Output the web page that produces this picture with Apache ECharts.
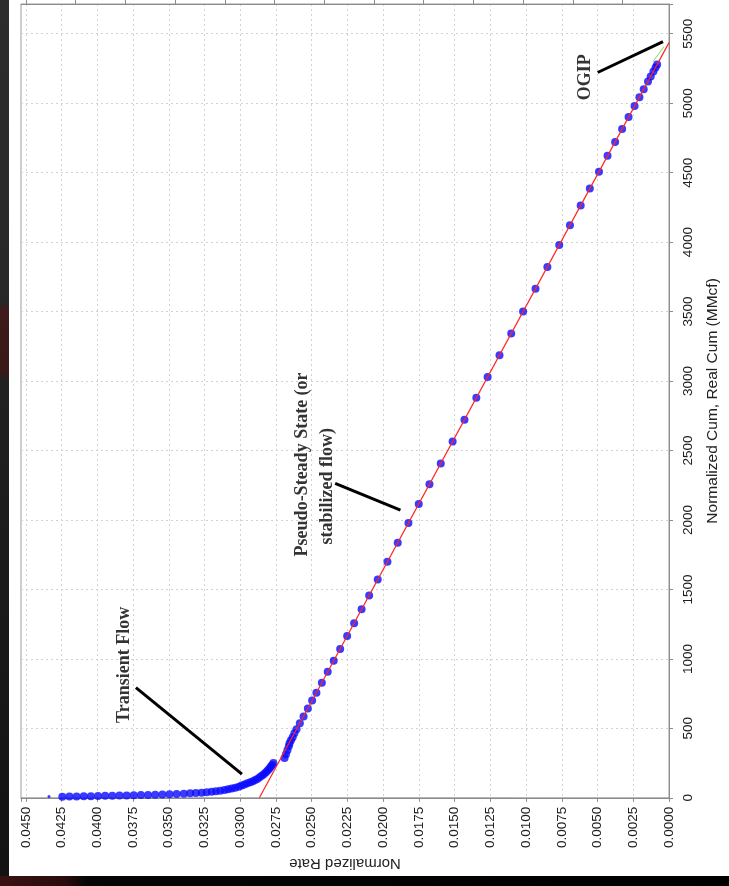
<!DOCTYPE html>
<html>
<head>
<meta charset="utf-8">
<script src="https://cdn.jsdelivr.net/npm/echarts@6/dist/echarts.min.js"></script>
<style>
  html, body { margin: 0; padding: 0; width: 729px; height: 886px; overflow: hidden; background: #000; }
  #backdrop { position: absolute; left: 0; top: 0; width: 729px; height: 886px;
    background: linear-gradient(to bottom, #2d2d2d 0%, #272727 34%, #3f1b1b 35%, #3a1919 42%, #212121 43%, #121212 100%); }
  #bottomStrip { position: absolute; left: 0; top: 876px; width: 729px; height: 10px;
    background: linear-gradient(to right, #3b1212 0%, #2a0c0c 9%, #050505 12%, #000 100%); }
  #chart { position: absolute; left: 9px; top: 0; width: 720px; height: 876px; background: #fff; }
</style>
</head>
<body>
<div id="backdrop"></div>
<div id="bottomStrip"></div>
<div id="chart"></div>
<script>
// Flowing material balance: normalized rate vs normalized cumulative production

// Transient flow period (early-time points)
const transientRate = [0.04245, 0.04195, 0.04145, 0.04095, 0.04045, 0.03995, 0.03945, 0.03895, 0.03845, 0.03795,
  0.03745, 0.03695, 0.03645, 0.03595, 0.03545, 0.03495, 0.03445, 0.03395, 0.03350, 0.03310,
  0.03270, 0.03235, 0.03200, 0.03170, 0.03140, 0.03110, 0.03085, 0.03060, 0.03035, 0.03010,
  0.02990, 0.02970, 0.02950, 0.02930, 0.02912, 0.02895, 0.02878, 0.02862, 0.02847, 0.02833,
  0.02820, 0.02808, 0.02797, 0.02787, 0.02777, 0.02768];
const transientCum = [8, 9, 10, 11, 12, 13, 14, 15, 16, 17,
  18, 19.5, 21, 22.5, 24, 26, 28, 30, 32, 34,
  37, 40, 43, 47, 51, 56, 61, 67, 73, 80,
  88, 96, 104, 112, 120, 129, 138, 149, 160, 172,
  184, 197, 210, 223, 236, 250];

// Earliest recorded point
const firstRate = [0.04338];
const firstCum = [9];

// Pseudo-steady state (boundary dominated) points
const pssRate = [0.02690, 0.02680, 0.02670, 0.02660, 0.02655, 0.02645, 0.02633, 0.02621, 0.02606, 0.02583,
  0.02557, 0.02527, 0.02497, 0.02467, 0.02429, 0.02388, 0.02346, 0.02301, 0.02252, 0.02203,
  0.02151, 0.02098, 0.02038, 0.01970, 0.01898, 0.01823, 0.01751, 0.01676, 0.01597, 0.01514,
  0.01431, 0.01348, 0.01269, 0.01186, 0.01104, 0.01021, 0.00934, 0.00851, 0.00768, 0.00693,
  0.00618, 0.00554, 0.00490, 0.00430, 0.00377, 0.00328, 0.00283, 0.00241, 0.00207, 0.00177,
  0.00147, 0.00128, 0.00109, 0.00094, 0.00083];
const pssCum = [286, 314, 343, 371, 393, 414, 436, 464, 493, 536,
  586, 643, 700, 757, 829, 907, 986, 1071, 1164, 1257,
  1357, 1457, 1571, 1700, 1836, 1979, 2114, 2257, 2407, 2564,
  2721, 2879, 3029, 3186, 3343, 3500, 3664, 3821, 3979, 4121,
  4264, 4386, 4507, 4621, 4721, 4814, 4900, 4979, 5043, 5100,
  5157, 5193, 5229, 5257, 5279];

// Straight-line fit through the stabilized points, extrapolated to OGIP
const fitRate = [0.02866, 0.0];
const fitCum = [0, 5436];

// Short extrapolation of the latest points
const tailRate = [0.00111, 0.00035];
const tailCum = [5300, 5407];

// Axis ticks
const rateTicks = [0.0000, 0.0025, 0.0050, 0.0075, 0.0100, 0.0125, 0.0150, 0.0175, 0.0200,
  0.0225, 0.0250, 0.0275, 0.0300, 0.0325, 0.0350, 0.0375, 0.0400, 0.0425, 0.0450];
const cumTicks = [0, 500, 1000, 1500, 2000, 2500, 3000, 3500, 4000, 4500, 5000, 5500];
const topTicks = [0.0450, 0.04152, 0.03804, 0.03456, 0.03108, 0.02760, 0.02412,
  0.02064, 0.01716, 0.01368, 0.01020, 0.00672, 0.00324];

// Annotations: label anchors and pointer lines (rate, cum)
const noteText = ['Transient Flow', 'Pseudo-Steady State (or', 'stabilized flow)', 'OGIP'];
const noteRate = [0.03813, 0.02565, 0.02392, 0.00582];
const noteCum = [957, 2400, 2243, 5186];
const pointerRate = [[0.03730, 0.02988], [0.02336, 0.01879], [0.00499, 0.00042]];
const pointerCum = [[793, 171], [2264, 2071], [5221, 5443]];

const pairs = (a, b) => a.map((v, i) => [v, b[i]]);

const sansFamily = 'Liberation Sans, Arial, sans-serif';
const gridLine = { show: true, lineStyle: { color: '#d2d2d2', type: [2, 3], width: 1 } };
const axisGray = '#8c8c8c';
const dotBlue = '#0a0aff';

const chart = echarts.init(document.getElementById('chart'), null, { renderer: 'canvas' });

const series = [
  {
    type: 'scatter', name: 'Transient', data: pairs(transientRate, transientCum),
    symbol: 'circle', symbolSize: 8, itemStyle: { color: dotBlue }, z: 3, clip: true
  },
  {
    type: 'scatter', name: 'First', data: pairs(firstRate, firstCum),
    symbol: 'circle', symbolSize: 3, itemStyle: { color: dotBlue }, z: 3, clip: true
  },
  {
    type: 'scatter', name: 'PSS', data: pairs(pssRate, pssCum),
    symbol: 'circle', symbolSize: 8, itemStyle: { color: dotBlue }, z: 3, clip: true
  },
  {
    type: 'line', name: 'Fit', data: pairs(fitRate, fitCum), showSymbol: false, symbol: 'none',
    lineStyle: { color: '#ff2424', width: 1.2 }, z: 4, silent: true
  },
  {
    type: 'line', name: 'Tail', data: pairs(tailRate, tailCum), showSymbol: false, symbol: 'none',
    lineStyle: { color: '#7be05a', width: 1 }, z: 4, silent: true
  }
];

pointerRate.forEach((r, i) => {
  series.push({
    type: 'line', data: pairs(r, pointerCum[i]), showSymbol: false, symbol: 'none',
    lineStyle: { color: '#000', width: 3 }, z: 5, silent: true
  });
});

series.push({
  type: 'scatter', name: 'Notes', data: pairs(noteRate, noteCum), symbolSize: 0, z: 6, silent: true,
  label: {
    show: true, position: 'inside', rotate: 90,
    formatter: p => noteText[p.dataIndex],
    fontFamily: 'Liberation Serif, Times New Roman, serif', fontWeight: 'bold', fontSize: 18,
    color: '#000', align: 'center', verticalAlign: 'middle'
  }
});

chart.setOption({
  animation: false,
  backgroundColor: '#fff',
  grid: { left: 12, right: 54, top: 4, bottom: 72, show: true, borderColor: '#9a9a9a', borderWidth: 1, backgroundColor: '#fff' },
  xAxis: [
    {
      type: 'value', position: 'bottom', inverse: true, min: 0, max: 0.04534, interval: 0.0025,
      axisLine: { show: true, onZero: false, lineStyle: { color: axisGray } },
      axisTick: { show: true, length: 4, lineStyle: { color: axisGray } },
      axisLabel: {
        rotate: 90, margin: 9, customValues: rateTicks, formatter: v => v.toFixed(4),
        fontFamily: sansFamily, fontSize: 13.5, color: '#1e1e1e'
      },
      splitLine: gridLine,
      name: 'Normalized Rate', nameLocation: 'middle', nameGap: 57, nameRotate: 180,
      nameTextStyle: { fontFamily: sansFamily, fontSize: 15, color: '#222' }
    },
    {
      type: 'value', position: 'top', inverse: true, min: 0, max: 0.04534,
      axisLine: { show: true, onZero: false, lineStyle: { color: axisGray } },
      axisTick: { show: true, length: 4, customValues: topTicks, lineStyle: { color: axisGray } },
      axisLabel: { show: false },
      splitLine: { show: false }
    }
  ],
  yAxis: {
    type: 'value', position: 'right', min: 0, max: 5714, interval: 500,
    axisLine: { show: true, onZero: false, lineStyle: { color: axisGray } },
    axisTick: { show: true, length: 4, lineStyle: { color: axisGray } },
    axisLabel: {
      rotate: 90, margin: 12, customValues: cumTicks, formatter: v => String(v),
      fontFamily: sansFamily, fontSize: 13.5, color: '#1e1e1e'
    },
    splitLine: gridLine,
    name: 'Normalized Cum, Real Cum (MMcf)', nameLocation: 'middle', nameGap: 36,
    nameTextStyle: { fontFamily: sansFamily, fontSize: 15.5, color: '#222' }
  },
  series: series
});
</script>
</body>
</html>
